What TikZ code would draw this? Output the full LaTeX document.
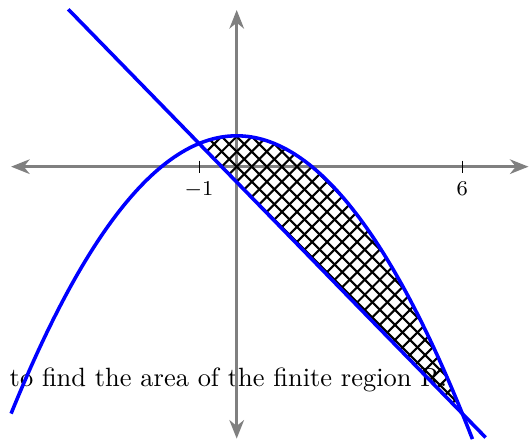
\documentclass[tikz,border=0pt]{standalone}
\usetikzlibrary{arrows.meta}
\begin{document}
\begin{tikzpicture}[x=0.5cm,y=0.513cm,
  axis/.style={draw=gray,line width=1.25pt,{Stealth[length=7pt,width=5.5pt,inset=2.2pt]}-{Stealth[length=7pt,width=5.5pt,inset=2.2pt]}},
  curve/.style={draw=blue,line width=1.35pt},
  hatchline/.style={draw=black,thick},
  tickmark/.style={draw=black,thin},
  ticklabel/.style={font=\footnotesize,below,inner sep=3.33pt}]
\useasboundingbox (-6.295,-7.08) rectangle (7.8,4.32);
% text
\node[anchor=base west,inner sep=0pt] (txt) at (-6.05,-5.70) {to find the area of the finite region R.};
% axes
\coordinate (xl) at (-6.0,0);
\coordinate (xr) at (7.76,0);
\coordinate (yt) at (0,4.06);
\coordinate (yb) at (0,-7.05);
\draw[axis] (xl) -- (xr);
\draw[axis] (yb) -- (yt);
% ticks
\coordinate (tm1) at (-1,0);
\coordinate (t6) at (6,0);
\draw[tickmark] ([yshift=2.3pt]tm1) -- ([yshift=-2.3pt]tm1) node[ticklabel] (lm1) {$-1$};
\draw[tickmark] ([yshift=2.3pt]t6) -- ([yshift=-2.3pt]t6) node[ticklabel] (l6) {$6$};
% hatched region
\begin{scope}
  \clip plot[domain=-1:6,samples=80] (\x,{0.8-0.2*\x*\x}) -- cycle;
  \foreach \k in {-40,...,60} {
    \draw[hatchline] (\k*5.7pt-150pt,-150pt) -- ++(300pt,300pt);
    \draw[hatchline] (\k*5.7pt-150pt,150pt) -- ++(300pt,-300pt);
  }
\end{scope}
% curves
\draw[curve] plot[domain=-6:6.27,samples=120] (\x,{0.8-0.2*\x*\x});
\draw[curve] (-4.48,4.08) -- (6.62,-7.02);
\end{tikzpicture}
\end{document}
